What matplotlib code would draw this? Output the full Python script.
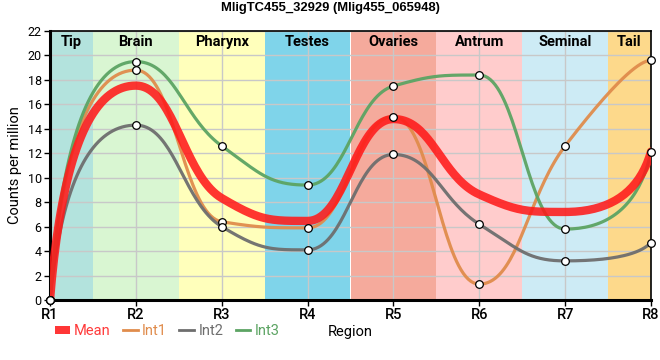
import numpy as np
import matplotlib
matplotlib.use("Agg")
import matplotlib.pyplot as plt
from matplotlib.lines import Line2D
from matplotlib.patches import Patch

plt.rcParams['font.family'] = ['Roboto', 'DejaVu Sans']

# Data
regions = ["R1", "R2", "R3", "R4", "R5", "R6", "R7", "R8"]
int1 = [0, 18.8, 6.4, 5.9, 15.0, 1.3, 12.6, 19.6]
int2 = [0, 14.3, 6.0, 4.1, 11.9, 6.2, 3.2, 4.7]
int3 = [0, 19.5, 12.6, 9.4, 17.5, 18.4, 5.8, 12.1]
mean = [float(np.mean(v)) for v in zip(int1, int2, int3)]

bands = ["Tip", "Brain", "Pharynx", "Testes", "Ovaries", "Antrum", "Seminal", "Tail"]
band_colors = ["#b3e3dd", "#d9f6d2", "#ffffbb", "#7fd4ea", "#f5aa9c",
               "#ffcccc", "#cdebf5", "#fdd98b"]


def smooth(x, y, a=0.45, e=0.8, n=40):
    # bezier spline, flat at local extremes
    x = np.asarray(x, float)
    y = np.asarray(y, float)
    k = len(x)
    m = np.zeros(k)
    for i in range(1, k - 1):
        s0 = (y[i] - y[i - 1]) / (x[i] - x[i - 1])
        s1 = (y[i + 1] - y[i]) / (x[i + 1] - x[i])
        if s0 * s1 > 0:
            p = (y[i + 1] - y[i - 1]) / (x[i + 1] - x[i - 1])
            m[i] = np.sign(p) * min(abs(p), min(abs(s0), abs(s1)) / a)
    t = np.linspace(0, 1, n)[:, None]
    pts = []
    for i in range(k - 1):
        h = x[i + 1] - x[i]
        p0 = np.array([x[i], y[i]])
        p3 = np.array([x[i + 1], y[i + 1]])
        if i == 0 or i == k - 2:
            j = i + 1 if i == 0 else i
            d = -1 if i == 0 else 1
            ee = e
            if m[j] != 0:
                ee = min(e, abs(y[j + d] - y[j]) / (h * abs(m[j])))
            q = np.array([x[j] + d * ee * h, y[j] + d * ee * h * m[j]])
            c1 = p0 + 2 / 3 * (q - p0)
            c2 = p3 + 2 / 3 * (q - p3)
        else:
            c1 = np.array([x[i] + a * h, y[i] + a * h * m[i]])
            c2 = np.array([x[i + 1] - a * h, y[i + 1] - a * h * m[i + 1]])
        b = ((1 - t) ** 3) * p0 + 3 * ((1 - t) ** 2) * t * c1 + 3 * (1 - t) * t ** 2 * c2 + t ** 3 * p3
        pts.append(b)
    pts = np.vstack(pts)
    return pts[:, 0], pts[:, 1]


fig = plt.figure(figsize=(6.6, 3.6), dpi=100)
ax = fig.add_axes([50 / 660, 60 / 360, 601 / 660, 269 / 360])

xpos = np.arange(1, len(regions) + 1)

# region bands
for i, (name, col) in enumerate(zip(bands, band_colors)):
    left = max(1, i + 0.5)
    right = min(8, i + 1.5)
    ax.axvspan(left, right, color=col, zorder=0, lw=0)
    ax.text((left + right) / 2, 0.985, name, transform=ax.get_xaxis_transform(),
            ha="center", va="top", fontsize=10.5, fontweight="bold", zorder=5)

ax.grid(True, color="#c8c8c8", lw=1, zorder=1)

series = [("Int1", int1, "#e08c4c"), ("Int2", int2, "#6e6e6e"), ("Int3", int3, "#5ca463")]
for name, vals, col in series:
    sx, sy = smooth(xpos, vals)
    ax.plot(sx, sy, color=col, lw=2.3, alpha=0.95, zorder=3, solid_capstyle="round")

mx, my = smooth(xpos, mean)
ax.plot(mx, my, color="#ff1a1a", lw=6, alpha=0.88, zorder=4, solid_capstyle="round")

for name, vals, col in series:
    ax.plot(xpos, vals, "o", ms=5.5, mfc="white", mec="black", mew=0.9, zorder=6,
            clip_on=False)

ax.set_xlim(1, 8)
ax.set_ylim(0, 22)
ax.set_xticks(xpos)
ax.set_xticklabels(regions, fontsize=10.5, fontweight="medium")
ax.set_yticks(np.arange(0, 23, 2))
ax.tick_params(axis="y", labelsize=9, length=4, width=1, pad=2)
ax.tick_params(axis="x", length=4, width=1, pad=2)
for sp in ["left", "bottom"]:
    ax.spines[sp].set_linewidth(2.2)
for sp in ["top", "right"]:
    ax.spines[sp].set_linewidth(1.2)
ax.set_ylabel("Counts per million", fontsize=10.5, labelpad=4)
ax.set_xlabel("Region", fontsize=10.5, labelpad=2)

fig.suptitle("MligTC455_32929 (Mlig455_065948)", fontsize=9.4, fontweight="bold",
             family=["Liberation Sans", "DejaVu Sans"], y=0.995)

handles = [Patch(facecolor="#ff2020", edgecolor="none", alpha=0.9)]
handles += [Line2D([], [], color=c, lw=2) for _, _, c in series]
leg = fig.legend(handles, ["Mean", "Int1", "Int2", "Int3"], loc="lower left",
                 bbox_to_anchor=(55 / 660, 22 / 360), ncol=4, frameon=False,
                 handlelength=1.0, handleheight=0.5, handletextpad=0.3,
                 columnspacing=0.85, fontsize=10.5, borderaxespad=0, borderpad=0)
for txt, col in zip(leg.get_texts(), ["#ff3a3a", "#e08c4c", "#6e6e6e", "#5ca463"]):
    txt.set_color(col)

fig.savefig("out.png", dpi=100)
